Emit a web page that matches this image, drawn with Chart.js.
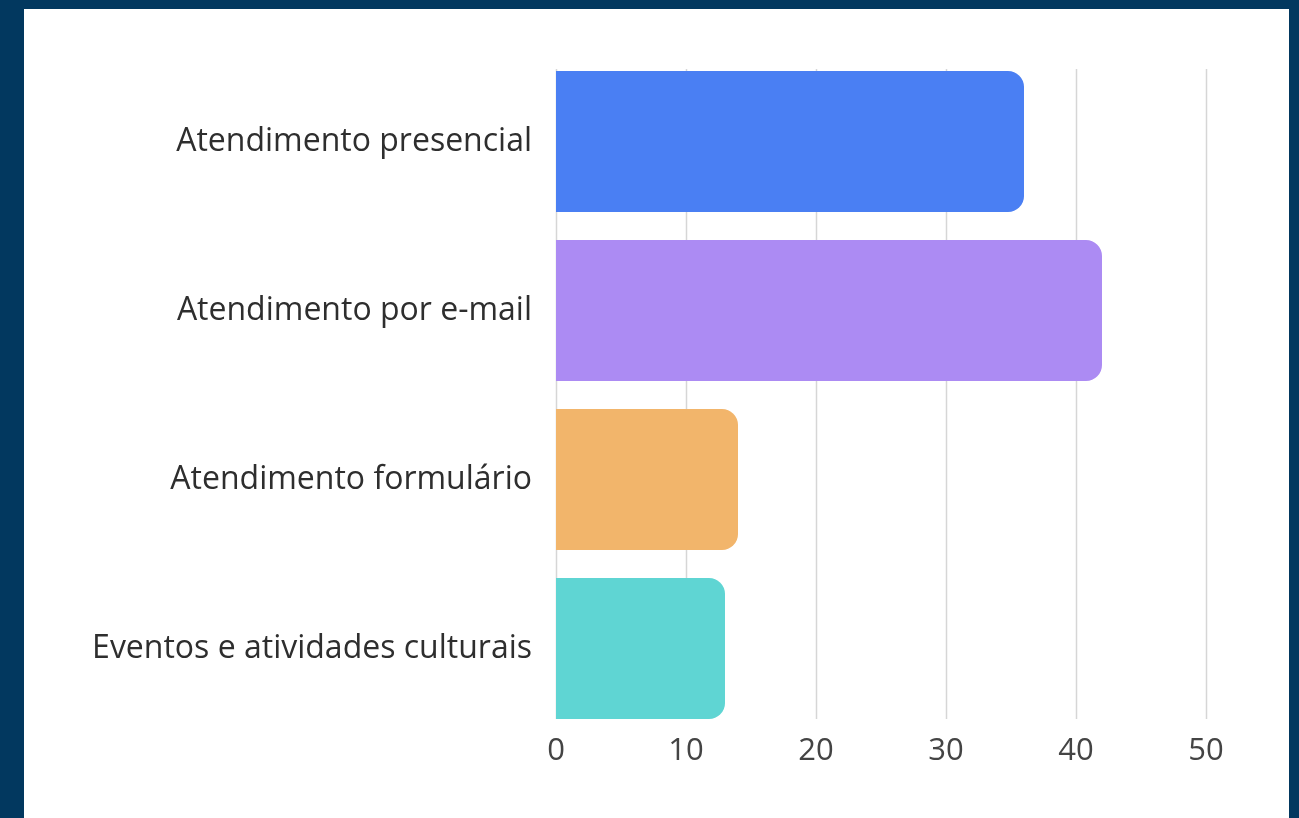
<!DOCTYPE html>
<html>
<head>
<meta charset="utf-8">
<script src="https://cdn.jsdelivr.net/npm/chart.js@4"></script>
<style>
  html, body { margin: 0; padding: 0; }
  body { width: 1299px; height: 818px; background: #02385f; position: relative; overflow: hidden; }
  #panel { position: absolute; left: 24px; top: 9px; width: 1265px; height: 809px; background: #fff; }
  #wrap { position: absolute; left: 0; top: 0; width: 1299px; height: 818px; }
</style>
</head>
<body>
<div id="panel"></div>
<div id="wrap"><canvas id="myChart"></canvas></div>
<script>
  const categories = ['Atendimento presencial', 'Atendimento por e-mail', 'Atendimento formulário', 'Eventos e atividades culturais'];
  const values = [36, 42, 14, 13];
  const barColors = ['#4a7ff3', '#ac8bf3', '#f2b56b', '#5fd5d3'];
  const xTicks = [0, 10, 20, 30, 40, 50];

  // vertical gridlines, a bit shorter than the plot area like the original
  const shortGrid = {
    id: 'shortGrid',
    beforeDatasetsDraw(chart) {
      const c = chart.ctx, area = chart.chartArea, xs = chart.scales.x;
      c.save();
      c.strokeStyle = '#d6d6d6';
      c.lineWidth = 1.5;
      xs.ticks.forEach(t => {
        const x = Math.round(xs.getPixelForValue(t.value)) + 0.5;
        c.beginPath();
        c.moveTo(x, area.top + 12);
        c.lineTo(x, area.bottom - 14);
        c.stroke();
      });
      c.restore();
    }
  };

  const ctx = document.getElementById('myChart').getContext('2d');
  new Chart(ctx, {
    type: 'bar',
    data: {
      labels: categories,
      datasets: [{
        data: values,
        backgroundColor: barColors,
        borderRadius: 16,
        borderSkipped: 'start',
        categoryPercentage: 0.834,
        barPercentage: 1
      }]
    },
    options: {
      indexAxis: 'y',
      responsive: true,
      maintainAspectRatio: false,
      animation: false,
      layout: { padding: { left: 0, top: 57, right: 93, bottom: 0 } },
      plugins: {
        legend: { display: false },
        tooltip: { enabled: false }
      },
      scales: {
        x: {
          min: 0,
          max: 50,
          afterBuildTicks: (scale) => { scale.ticks = xTicks.map(v => ({ value: v })); },
          afterFit: (scale) => { scale.height = 85; },
          border: { display: false },
          grid: { display: false, drawTicks: false },
          ticks: { padding: 0, color: '#444', font: { family: 'Open Sans', size: 31 } }
        },
        y: {
          afterFit: (scale) => { scale.width = 556; },
          border: { display: false },
          grid: { display: false, drawTicks: false },
          ticks: { padding: 24, color: '#2e2e2e', font: { family: 'Open Sans', size: 32 } }
        }
      }
    },
    plugins: [shortGrid]
  });
</script>
</body>
</html>
